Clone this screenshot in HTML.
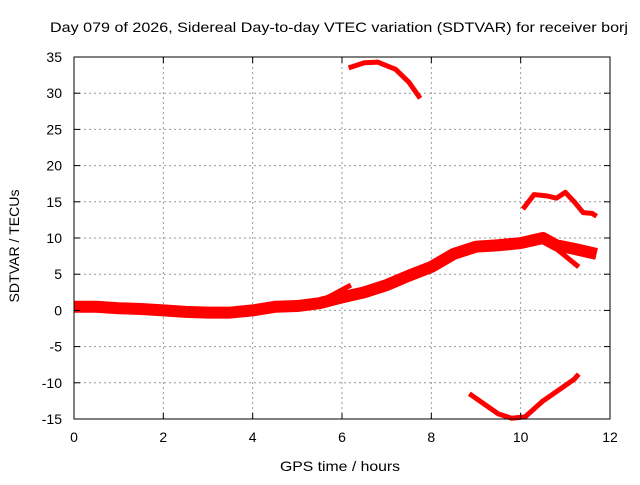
<!DOCTYPE html>
<html><head><meta charset="utf-8"><style>
body{margin:0;background:#fff}
svg text{font-family:"Liberation Sans",sans-serif;font-size:14px;fill:#000}
</style></head><body>
<svg id="chart" width="640" height="480" xmlns="http://www.w3.org/2000/svg">
<rect width="640" height="480" fill="#fff"/>
<text x="339" y="32" text-anchor="middle" textLength="578" lengthAdjust="spacingAndGlyphs">Day 079 of 2026, Sidereal Day-to-day VTEC variation (SDTVAR) for receiver borj</text>
<text x="340" y="471" text-anchor="middle" textLength="120" lengthAdjust="spacingAndGlyphs">GPS time / hours</text>
<text transform="translate(19,246) rotate(-90)" text-anchor="middle" textLength="113" lengthAdjust="spacingAndGlyphs">SDTVAR / TECUs</text>
<g id="grid"></g><g id="series"></g>
<rect x="74" y="57" width="536" height="362" fill="none" stroke="#000" stroke-width="1"/>
<g id="ticks"></g>
</svg>
<script>
const xTicks=[0,2,4,6,8,10,12];
const yTicks=[-15,-10,-5,0,5,10,15,20,25,30,35];
const mainBandX=[0,0.5,1,1.5,2,2.5,3,3.5,4,4.5,5,5.5,6,6.5,7,7.5,8,8.5,9,9.5,10,10.5,10.8,11.2,11.7];
const mainBandY=[0.5,0.5,0.3,0.2,0,-0.2,-0.3,-0.3,0,0.5,0.6,1,1.8,2.5,3.5,4.8,6,7.8,8.8,9,9.3,10,9,8.5,7.8];
const spurX=[5.5,6.2]; const spurY=[1.2,3.5];
const spur2X=[7.3,7.6,8]; const spur2Y=[4,5,6.2];
const branchX=[10.5,10.8,11,11.3]; const branchY=[9.5,8.5,7.5,6];
const upperX=[6.15,6.5,6.8,7.2,7.5,7.75]; const upperY=[33.5,34.2,34.3,33.3,31.5,29.3];
const midX=[10.05,10.3,10.6,10.8,11,11.2,11.4,11.6,11.7]; const midY=[14,16,15.8,15.5,16.3,15,13.5,13.4,13];
const lowX=[8.85,9.2,9.5,9.8,10.1,10.5,10.9,11.2,11.3]; const lowY=[-11.5,-13,-14.3,-14.9,-14.7,-12.5,-10.8,-9.5,-8.8];
const NS="http://www.w3.org/2000/svg";
const sx=v=>74+v*536/12, sy=v=>57+(35-v)*362/50;
const grid=document.getElementById('grid'),ticks=document.getElementById('ticks'),ser=document.getElementById('series');
function mk(t,a,p){const e=document.createElementNS(NS,t);for(const k in a)e.setAttribute(k,a[k]);p.appendChild(e);return e;}
xTicks.forEach(v=>{const x=sx(v);
 if(v>0&&v<12){const g=mk('line',{x1:x,x2:x,y1:57,y2:419,stroke:'#999','stroke-dasharray':'2,3'},grid);
 
 }
 const t=mk('text',{x:x,y:442,'text-anchor':'middle'},ticks);t.textContent=v;
 
 
 mk('line',{x1:x,x2:x,y1:419,y2:413,stroke:'#000'},ticks);mk('line',{x1:x,x2:x,y1:57,y2:63,stroke:'#000'},ticks);});
yTicks.forEach(v=>{const y=sy(v);
 if(v>-15&&v<35){const g=mk('line',{x1:74,x2:610,y1:y,y2:y,stroke:'#999','stroke-dasharray':'2,3'},grid);
 
 }
 const t=mk('text',{x:62,y:y+5,'text-anchor':'end'},ticks);t.textContent=v;
 
 
 mk('line',{x1:74,x2:80,y1:y,y2:y,stroke:'#000'},ticks);mk('line',{x1:610,x2:604,y1:y,y2:y,stroke:'#000'},ticks);});
function draw(xs,ys,w,name){const p=mk('polyline',{points:xs.map((x,i)=>sx(x)+','+sy(ys[i])).join(' '),fill:'none',stroke:'#f00','stroke-width':w,'stroke-linejoin':'round','stroke-linecap':'butt'},ser);
 
 }
draw(mainBandX,mainBandY,12,'main-band-series');
draw(spurX,spurY,5,'spur-series');
draw(spur2X,spur2Y,5,'spur2-series');
draw(branchX,branchY,5,'branch-series');
draw(upperX,upperY,5,'upper-series');
draw(midX,midY,5,'mid-series');
draw(lowX,lowY,5,'low-series');
</script>
</body></html>
